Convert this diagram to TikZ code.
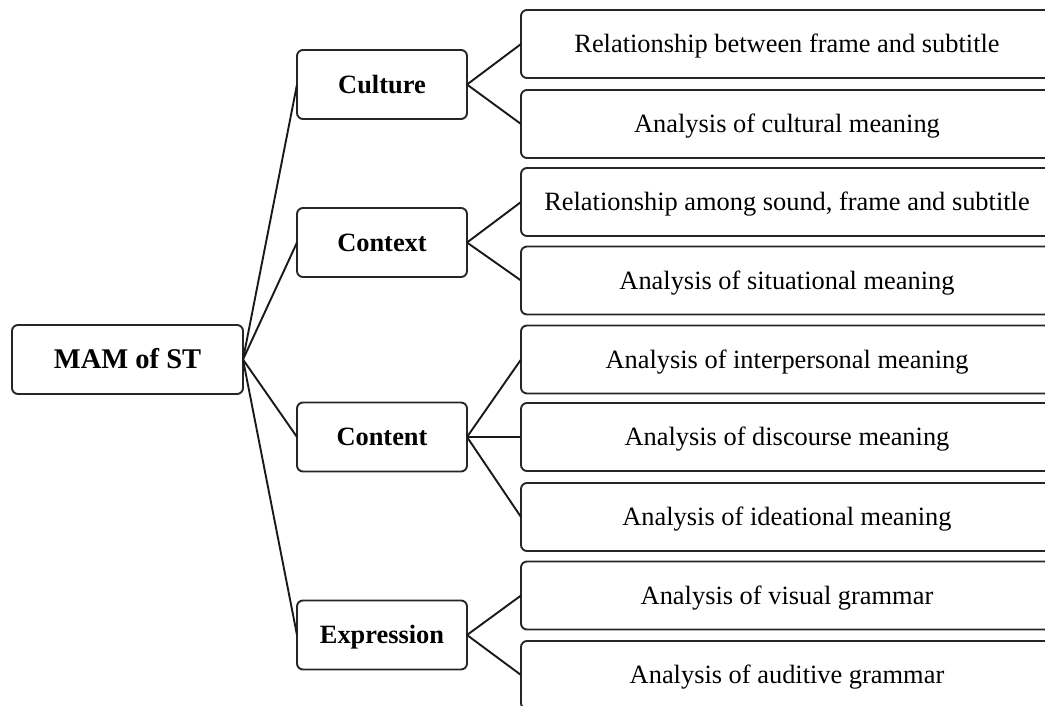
\documentclass[tikz,border=0pt]{standalone}
\usepackage{fontspec}
\setmainfont{Liberation Serif}
\begin{document}
\begin{tikzpicture}[x=1pt,y=-1pt,
  box/.style={draw=black!85, line width=1.9pt, rounded corners=6pt, inner sep=0pt, outer sep=0pt, fill=white, text height=17.5pt, text depth=0pt},
  rootbox/.style={box, minimum width=231pt, minimum height=69pt, text height=18.9pt, font=\fontsize{28.5}{32}\selectfont\bfseries},
  midbox/.style={box, minimum width=170pt, minimum height=69pt, font=\fontsize{26.4}{30}\selectfont\bfseries},
  leafbox/.style={box, minimum width=532pt, minimum height=68pt, font=\fontsize{26.4}{30}\selectfont},
  link/.style={draw=black!90, line width=1.9pt}
]
\useasboundingbox (0,0) rectangle (1045,705);
\fill[white] (0,0) rectangle (1045,705);

\node[rootbox] (root) at (127.5,359.5) {MAM of ST};

\node[midbox] (culture) at (382,84.5) {Culture};
\node[midbox] (context) at (382,242.5) {Context};
\node[midbox] (content) at (382,437) {Content};
\node[midbox] (expression) at (382,635) {Expression};

\node[leafbox] (l1) at (787,44) {Relationship between frame and subtitle};
\node[leafbox] (l2) at (787,124) {Analysis of cultural meaning};
\node[leafbox] (l3) at (787,202) {Relationship among sound, frame and subtitle};
\node[leafbox] (l4) at (787,280.5) {Analysis of situational meaning};
\node[leafbox] (l5) at (787,359.5) {Analysis of interpersonal meaning};
\node[leafbox] (l6) at (787,437) {Analysis of discourse meaning};
\node[leafbox] (l7) at (787,517) {Analysis of ideational meaning};
\node[leafbox] (l8) at (787,595.5) {Analysis of visual grammar};
\node[leafbox] (l9) at (787,675) {Analysis of auditive grammar};

\draw[link] (root.east) -- (culture.west);
\draw[link] (root.east) -- (context.west);
\draw[link] (root.east) -- (content.west);
\draw[link] (root.east) -- (expression.west);

\draw[link] (culture.east) -- (l1.west);
\draw[link] (culture.east) -- (l2.west);
\draw[link] (context.east) -- (l3.west);
\draw[link] (context.east) -- (l4.west);
\draw[link] (content.east) -- (l5.west);
\draw[link] (content.east) -- (l6.west);
\draw[link] (content.east) -- (l7.west);
\draw[link] (expression.east) -- (l8.west);
\draw[link] (expression.east) -- (l9.west);
\end{tikzpicture}
\end{document}
